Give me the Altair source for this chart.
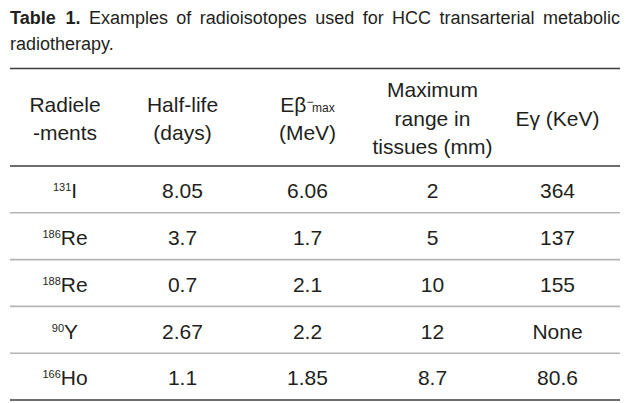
import altair as alt
import pandas as pd

# ---------------- data ----------------
elements = ["I", "Re", "Re", "Y", "Ho"]
mass_numbers = ["131", "186", "188", "90", "166"]
half_life = ["8.05", "3.7", "0.7", "2.67", "1.1"]
e_beta_max = ["6.06", "1.7", "2.1", "2.2", "1.85"]
max_range = ["2", "5", "10", "12", "8.7"]
e_gamma = ["364", "137", "155", "None", "80.6"]

header_col0 = ["Radiele", "-ments"]
header_col1 = ["Half-life", "(days)"]
header_col2_main = "E\u03b2"
header_col2_sup = "\u2212"
header_col2_sub = "max"
header_col2_unit = "(MeV)"
header_col3 = ["Maximum", "range in", "tissues (mm)"]
header_col4 = ["E\u03b3 (KeV)"]

title_bold_words = ["Table", "1."]
title_words = ["Examples", "of", "radioisotopes", "used", "for", "HCC",
               "transarterial", "metabolic"]
title_line2 = "radiotherapy."

# ---------------- layout ----------------
W, H = 625, 393
FONT = "Liberation Sans"
INK = "#231f20"
FS = 21          # body font size
FS_SMALL = 11    # superscripts
FS_TITLE = 18
LEFT, RIGHT = 2, 612
col_widths = [110, 125, 125, 125, 125]
centers = []
acc = LEFT
for w in col_widths:
    centers.append(acc + w / 2)
    acc += w
rule_top, rule_head = 60.5, 158
row_h = (392 - 158) / 5
row_rules = [rule_head + row_h * (i + 1) for i in range(5)]
row_y = [rule_head + row_h * (i + 0.5) + 2.7 for i in range(5)]
head2 = [98, 126]
head3 = [83, 111.5, 140]
head1 = [111.5]

# approximate Arial / Liberation Sans advance widths (per 1000 em)
AW = {" ": 278, ".": 278, "-": 333, "(": 333, ")": 333,
      "A": 667, "C": 722, "E": 667, "H": 722, "I": 278, "K": 667, "M": 833,
      "R": 722, "T": 611, "V": 667, "Y": 667,
      "a": 556, "b": 556, "c": 500, "d": 556, "e": 556, "f": 278, "i": 222,
      "l": 222, "m": 833, "n": 556, "o": 556, "p": 556, "r": 333, "s": 500,
      "t": 278, "u": 556, "x": 500, "y": 500, "v": 500,
      "\u03b2": 575, "\u03b3": 500, "\u2212": 584}
AWB = {"T": 611, "a": 556, "b": 611, "l": 278, "e": 556, ".": 278}


def tw(s, size, bold=False):
    tab = AWB if bold else AW
    return sum(tab.get(c, AW.get(c, 556)) for c in s) * size / 1000


# ---------------- tables for the marks ----------------
center_rows = []
for i, lines in enumerate([header_col0, header_col1]):
    for t, y in zip(lines, head2):
        center_rows.append({"x": centers[i], "y": y, "text": t})
center_rows.append({"x": centers[2], "y": head2[1], "text": header_col2_unit})
for t, y in zip(header_col3, head3):
    center_rows.append({"x": centers[3], "y": y, "text": t})
for t, y in zip(header_col4, head1):
    center_rows.append({"x": centers[4], "y": y, "text": t})
for c, col in enumerate([half_life, e_beta_max, max_range, e_gamma], start=1):
    for r, v in enumerate(col):
        center_rows.append({"x": centers[c], "y": row_y[r], "text": v})
center_df = pd.DataFrame(center_rows)

# isotope labels: superscript mass number + element symbol, centred as a group
sym_rows, sup_rows = [], []
for r, (m, e) in enumerate(zip(mass_numbers, elements)):
    ws, we = tw(m, FS_SMALL), tw(e, FS)
    split = centers[0] + (ws - we) / 2
    sym_rows.append({"x": split, "y": row_y[r], "text": e})
    sup_rows.append({"x": split, "y": row_y[r], "text": m})
sym_df = pd.DataFrame(sym_rows)
sup_df = pd.DataFrame(sup_rows)

# E beta- max header
w_main = tw(header_col2_main, FS)
w_sup = tw(header_col2_sup, 12) * 0.8
w_sub = tw(header_col2_sub, 12)
start = centers[2] - (w_main + w_sup + w_sub) / 2
eb_df = pd.DataFrame([{"x": start, "y": head2[0], "text": header_col2_main}])
ebsup_df = pd.DataFrame([{"x": start + w_main, "y": head2[0], "text": header_col2_sup}])
ebsub_df = pd.DataFrame([{"x": start + w_main + w_sup, "y": head2[0], "text": header_col2_sub}])

# justified first title line
tokens = [(w, True) for w in title_bold_words] + [(w, False) for w in title_words]
widths = [tw(w, FS_TITLE, b) for w, b in tokens]
gap = (RIGHT - LEFT - sum(widths)) / (len(tokens) - 1)
xs, acc = [], LEFT
for wd in widths:
    xs.append(acc)
    acc += wd + gap
tb_df = pd.DataFrame([{"x": x, "y": 11, "text": w} for x, (w, b) in zip(xs, tokens) if b])
tn_rows = [{"x": x, "y": 11, "text": w} for x, (w, b) in zip(xs, tokens) if not b]
tn_rows.append({"x": LEFT, "y": 37, "text": title_line2})
tn_df = pd.DataFrame(tn_rows)

dark_rules = pd.DataFrame({"y": [rule_top, rule_head, 392], "x": LEFT, "x2": RIGHT})
light_rules = pd.DataFrame({"y": row_rules[:-1], "x": LEFT, "x2": RIGHT})

XS = alt.Scale(domain=[0, W], range=[0, W])
YS = alt.Scale(domain=[0, H], range=[0, H])
X = alt.X("x:Q", scale=XS, axis=None)
Y = alt.Y("y:Q", scale=YS, axis=None)


def text_layer(df, size, align, bold=False, dy=0, baseline="middle"):
    return alt.Chart(df).mark_text(
        font=FONT, fontSize=size, align=align, baseline=baseline, color=INK,
        fontWeight="bold" if bold else "normal", dy=dy
    ).encode(x=X, y=Y, text="text:N")


rule_dark = alt.Chart(dark_rules).mark_rule(color="#3c3c3c", strokeWidth=1.4).encode(
    x=X, x2="x2:Q", y=Y)
rule_light = alt.Chart(light_rules).mark_rule(color="#b4b4b4", strokeWidth=1.6).encode(
    x=X, x2="x2:Q", y=Y)

chart = alt.layer(
    rule_light,
    rule_dark,
    text_layer(center_df, FS, "center"),
    text_layer(sym_df, FS, "left"),
    text_layer(sup_df, FS_SMALL, "right", dy=-4),
    text_layer(eb_df, FS, "left"),
    text_layer(ebsup_df, 12, "left", dy=-4),
    text_layer(ebsub_df, 12, "left", dy=6.3, baseline="alphabetic"),
    text_layer(tb_df, FS_TITLE, "left", bold=True),
    text_layer(tn_df, FS_TITLE, "left"),
).properties(
    width=W, height=H, autosize=alt.AutoSizeParams(type="none"), padding=0,
    background="white"
).configure_view(stroke=None)

chart.save("out.html", embed_options={"renderer": "svg", "actions": False})
